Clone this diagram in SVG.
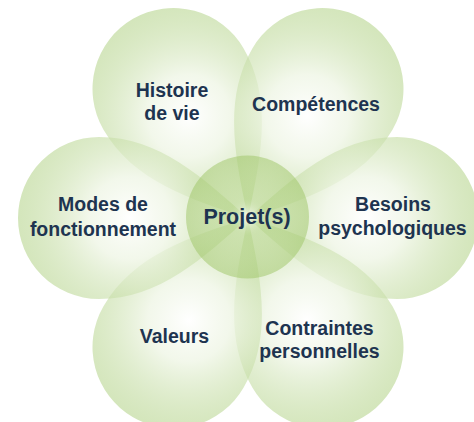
<svg xmlns="http://www.w3.org/2000/svg" xmlns:xlink="http://www.w3.org/1999/xlink" width="474" height="422" viewBox="0 0 474 422">
  <defs>
    <radialGradient id="petalGrad" gradientUnits="userSpaceOnUse" cx="118" cy="0" r="118">
      <stop offset="0" stop-color="#ffffff" stop-opacity="0.9"/>
      <stop offset="0.35" stop-color="#eef5e4" stop-opacity="0.75"/>
      <stop offset="1" stop-color="#a6cb74" stop-opacity="0.5"/>
    </radialGradient>
    <radialGradient id="hubGrad" cx="0.5" cy="0.5" r="0.5">
      <stop offset="0" stop-color="#ffffff" stop-opacity="0.85"/>
      <stop offset="0.3" stop-color="#b9d78e" stop-opacity="0.35"/>
      <stop offset="1" stop-color="#9cc463" stop-opacity="0.5"/>
    </radialGradient>
    <path id="petal" d="M0,0 C44.6,-40.1 89,-81 149,-81 A81,81 0 0 1 230,0 A81,81 0 0 1 149,81 C89,81 44.6,40.1 0,0 Z"/>
    <style>
      .petal { fill: url(#petalGrad); }
      .lbl { font-family: "Liberation Sans", Arial, sans-serif; font-weight: bold; font-size: 19.5px; fill: #1e3450; text-anchor: middle; }
      .hub { font-size: 21.5px; }
    </style>
  </defs>

  <g id="histoire">
    <use xlink:href="#petal" href="#petal" class="petal" transform="translate(248,218) rotate(-120)"/>
    <text class="lbl" x="172" y="96.5">Histoire</text>
    <text class="lbl" x="172" y="119.5">de vie</text>
  </g>
  <g id="competences">
    <use xlink:href="#petal" href="#petal" class="petal" transform="translate(248,218) rotate(-60)"/>
    <text class="lbl" x="316" y="111">Compétences</text>
  </g>
  <g id="besoins">
    <use xlink:href="#petal" href="#petal" class="petal" transform="translate(248,218) rotate(0)"/>
    <text class="lbl" x="393" y="210.5">Besoins</text>
    <text class="lbl" x="392.5" y="235">psychologiques</text>
  </g>
  <g id="contraintes">
    <use xlink:href="#petal" href="#petal" class="petal" transform="translate(248,218) rotate(60)"/>
    <text class="lbl" x="319.5" y="335">Contraintes</text>
    <text class="lbl" x="319.5" y="357.5">personnelles</text>
  </g>
  <g id="valeurs">
    <use xlink:href="#petal" href="#petal" class="petal" transform="translate(248,218) rotate(120)"/>
    <text class="lbl" x="174.5" y="342.5">Valeurs</text>
  </g>
  <g id="modes">
    <use xlink:href="#petal" href="#petal" class="petal" transform="translate(248,218) rotate(180)"/>
    <text class="lbl" x="103" y="211">Modes de</text>
    <text class="lbl" x="103" y="236">fonctionnement</text>
  </g>

  <g id="connectors"/>

  <g id="projets">
    <circle cx="247.5" cy="217" r="61.5" fill="url(#hubGrad)"/>
    <text class="lbl hub" x="247" y="223.5">Projet(s)</text>
  </g>
</svg>
